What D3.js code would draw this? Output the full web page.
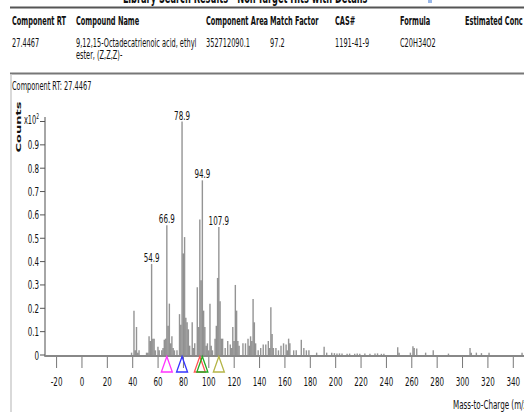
<!DOCTYPE html>
<html>
<head>
<meta charset="utf-8">
<script src="https://cdn.jsdelivr.net/npm/d3@7"></script>
<style>
  body { margin: 0; background: #fff; }
  svg { display: block; }
  text { font-family: "DejaVu Sans", Verdana, sans-serif; fill: #111; }
</style>
</head>
<body>
<svg width="524" height="412"></svg>
<script>
// table of the hit
const headers = ['Component RT', 'Compound Name', 'Component Area', 'Match Factor', 'CAS#', 'Formula', 'Estimated Conc'];
const headerX = [12, 76, 206, 270, 335, 400, 465];
const rowValues = ['27.4467', '9,12,15-Octadecatrienoic acid, ethyl', '352712090.1', '97.2', '1191-41-9', 'C20H34O2', ''];
const rowSecondLine = ['', 'ester, (Z,Z,Z)-', '', '', '', '', ''];

// spectrum: m/z and counts (x10^2)
const mz = [39.1, 41.0, 42.0, 43.0, 44.0, 45.0, 50.9, 51.9, 52.9, 53.9, 54.9, 55.9, 56.9, 57.9, 59.9, 60.9,
  62.9, 63.9, 64.9, 65.9, 66.9, 67.9, 68.9, 69.9, 70.9, 71.9, 72.9, 74.9, 76.9, 77.9, 78.9, 79.9, 80.9,
  81.9, 82.9, 83.9, 84.9, 86.9, 87.9, 88.9, 90.9, 91.9, 92.9, 93.9, 94.9, 95.9, 96.9, 97.9, 98.9, 99.9,
  100.9, 101.9, 102.9, 104.9, 105.9, 106.9, 107.9, 108.9, 109.9, 110.9, 112.9, 114.9, 116.9, 117.9, 118.9,
  119.9, 120.9, 121.9, 122.9, 123.9, 126.9, 128.9, 130.9, 131.9, 132.9, 133.9, 134.9, 135.9, 136.9, 138.9,
  140.9, 142.9, 144.9, 146.9, 147.9, 148.9, 149.9, 150.9, 152.9, 154.9, 156.9, 158.9, 160.9, 161.9, 162.9,
  163.9, 166.9, 168.9, 172.9, 174.9, 176.9, 178.9, 185.0, 190.9, 192.9, 196.9, 199.0, 201.0, 203.0, 205.0,
  209.0, 211.0, 215.0, 217.0, 219.0, 223.0, 227.0, 231.0, 233.0, 236.0, 238.0, 248.9, 250.0, 258.9, 260.9,
  261.9, 263.9, 270.9, 276.9, 288.9, 305.9, 306.9, 310.9, 314.9, 320.9, 346.9];
const counts = [0.01, 0.19, 0.02, 0.12, 0.01, 0.02, 0.01, 0.01, 0.08, 0.06, 0.39, 0.07, 0.07, 0.02, 0.035, 0.02,
  0.02, 0.03, 0.065, 0.07, 0.556, 0.125, 0.22, 0.05, 0.08, 0.03, 0.02, 0.02, 0.175, 0.13, 1.0, 0.435, 0.505,
  0.16, 0.14, 0.11, 0.04, 0.14, 0.03, 0.05, 0.29, 0.12, 0.58, 0.32, 0.748, 0.19, 0.12, 0.04, 0.05, 0.02,
  0.22, 0.04, 0.02, 0.07, 0.125, 0.33, 0.548, 0.23, 0.07, 0.07, 0.03, 0.06, 0.045, 0.03, 0.12,
  0.06, 0.30, 0.19, 0.06, 0.04, 0.05, 0.05, 0.07, 0.04, 0.08, 0.06, 0.24, 0.14, 0.05, 0.02,
  0.03, 0.045, 0.045, 0.06, 0.03, 0.205, 0.09, 0.03, 0.03, 0.02, 0.04, 0.05, 0.045, 0.02, 0.07,
  0.05, 0.02, 0.02, 0.065, 0.03, 0.02, 0.02, 0.01, 0.035, 0.01, 0.01, 0.008, 0.006, 0.007, 0.006,
  0.005, 0.006, 0.005, 0.006, 0.005, 0.006, 0.005, 0.006, 0.007, 0.005, 0.005, 0.033, 0.01, 0.01, 0.037,
  0.03, 0.028, 0.01, 0.02, 0.006, 0.03, 0.01, 0.01, 0.008, 0.01, 0.01];
const labeledPeaks = [54.9, 66.9, 78.9, 94.9, 107.9];
const markerMz = [66.9, 78.9, 92.9, 94.9, 107.9];
const markerColors = ['#ff33ff', '#3333ff', '#ff5555', '#22aa22', '#b5b548'];
const yTicks = [0, 0.1, 0.2, 0.3, 0.4, 0.5, 0.6, 0.7, 0.8, 0.9];
const xTicks = d3.range(-20, 361, 20);

const peaks = mz.map((m, i) => ({mz: m, v: counts[i]}));
const svg = d3.select('svg');
const SX = 0.55; // the screenshot is squeezed horizontally

// text helper, squeezed horizontally like the original
function label(g, x, y, str, opts = {}) {
  return g.append('text')
    .attr('transform', `translate(${x},${y}) scale(${SX},1)` + (opts.rotate ? ` rotate(${opts.rotate})` : ''))
    .attr('text-anchor', opts.anchor || 'start')
    .style('font-size', (opts.size || 12) + 'px')
    .style('font-weight', opts.bold ? 'bold' : 'normal')
    .text(str);
}

// title, cut at the top
label(svg, 123, 3, 'Library Search Results - Non-Target Hits with Details', {size: 15, bold: true});
svg.append('rect').attr('x', 428).attr('y', 0).attr('width', 4).attr('height', 3).attr('fill', '#9ab8e8');
svg.append('line').attr('x1', 10).attr('x2', 524).attr('y1', 7.5).attr('y2', 7.5)
  .attr('stroke', '#555').attr('stroke-width', 2);

headers.forEach((h, i) => label(svg, headerX[i], 25, h, {bold: true}));
rowValues.forEach((v, i) => label(svg, headerX[i], 47, v));
rowSecondLine.forEach((v, i) => label(svg, headerX[i], 59, v));

// chart box
svg.append('line').attr('x1', 10).attr('x2', 524).attr('y1', 73.5).attr('y2', 73.5)
  .attr('stroke', '#777').attr('stroke-width', 2);
svg.append('line').attr('x1', 11).attr('x2', 11).attr('y1', 74).attr('y2', 412)
  .attr('stroke', '#ccc').attr('stroke-width', 1.5);
label(svg, 12, 90, 'Component RT: 27.4467');

const x = d3.scaleLinear().domain([0, 340]).range([81.96, 81.96 + 340 * 1.2686]);
const y = d3.scaleLinear().domain([0, 1]).range([355, 121.5]);

// y axis
const gy = svg.append('g');
gy.append('line').attr('x1', 45).attr('x2', 45).attr('y1', 117).attr('y2', 357)
  .attr('stroke', '#888').attr('stroke-width', 1.5);
gy.selectAll('line.tick').data(yTicks.concat([1])).enter().append('line').attr('class', 'tick')
  .attr('x1', 40).attr('x2', 45).attr('y1', d => y(d)).attr('y2', d => y(d))
  .attr('stroke', '#555').attr('stroke-width', 1);
yTicks.forEach(t => label(gy, 39, y(t) + 4.5, d3.format('')(t), {anchor: 'end', size: 13}));
const xl = label(gy, 39, y(1) + 2, 'x10', {anchor: 'end', size: 12});
xl.append('tspan').attr('dy', -5).style('font-size', '8px').text('2');
label(gy, 21, 127, 'Counts', {anchor: 'middle', size: 13, bold: true, rotate: -90});

// spectrum bars
svg.append('g').selectAll('line').data(peaks).enter().append('line')
  .attr('x1', d => x(d.mz)).attr('x2', d => x(d.mz))
  .attr('y1', y(0)).attr('y2', d => y(d.v))
  .attr('stroke', '#666').attr('stroke-opacity', 0.7).attr('stroke-width', 1.4);

// peak labels
peaks.filter(d => labeledPeaks.includes(d.mz)).forEach(d =>
  label(svg, x(d.mz), y(d.v) - 2, d.mz.toFixed(1), {anchor: 'middle', size: 13}));

// x axis
const gx = svg.append('g');
gx.append('line').attr('x1', 45).attr('x2', 524).attr('y1', 356).attr('y2', 356)
  .attr('stroke', '#888').attr('stroke-width', 2);
gx.selectAll('line.tick').data(xTicks).enter().append('line').attr('class', 'tick')
  .attr('x1', d => x(d)).attr('x2', d => x(d)).attr('y1', 357).attr('y2', 368)
  .attr('stroke', '#777').attr('stroke-width', 1);
xTicks.forEach(t => label(gx, x(t), 386, t, {anchor: 'middle', size: 13}));
label(gx, 453, 409, 'Mass-to-Charge (m/z)', {size: 13});

// precursor markers
svg.append('g').selectAll('path').data(markerMz).enter().append('path')
  .attr('d', d => `M${x(d)},356.5 L${x(d) - 5.5},372 L${x(d) + 5.5},372 Z`)
  .attr('fill', 'none').attr('stroke-width', 1.3)
  .attr('stroke', (d, i) => markerColors[i]);
</script>
</body>
</html>
